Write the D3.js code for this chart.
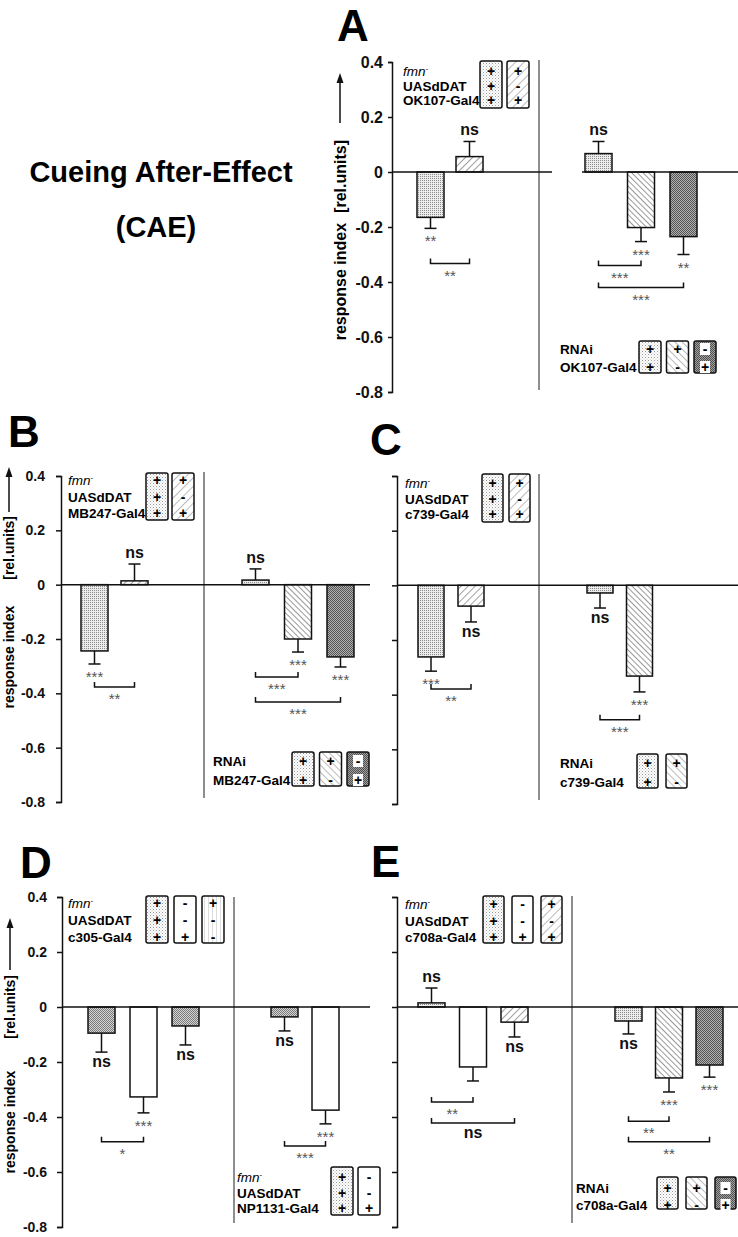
<!DOCTYPE html>
<html>
<head>
<meta charset="utf-8">
<script src="https://cdn.jsdelivr.net/npm/d3@7"></script>
<style>
  body { margin: 0; background: #fff; }
  svg text { font-family: 'Liberation Sans', Arial, sans-serif; }
</style>
</head>
<body>
<div id="chart"></div>
<script>
// ---- data ----
const yTicks = [0.4, 0.2, 0, -0.2, -0.4, -0.6, -0.8];

// A: OK107
const valuesA = [-0.165, 0.056, 0.067, -0.202, -0.235];
const errorsA = [0.040, 0.055, 0.044, 0.051, 0.065];
const fillsA = ['dots', 'fwd', 'dots', 'back', 'dark'];
const sigA = ['**', 'ns', 'ns', '***', '**'];
const bracketsA = [[0, 1, -0.333, '**'], [2, 3, -0.34, '***'], [2, 4, -0.42, '***']];

// B: MB247
const valuesB = [-0.244, 0.014, 0.017, -0.200, -0.266];
const errorsB = [0.048, 0.062, 0.041, 0.048, 0.037];
const fillsB = ['dots', 'fwd', 'dots', 'back', 'dark'];
const sigB = ['***', 'ns', 'ns', '***', '***'];
const bracketsB = [[0, 1, -0.377, '**'], [2, 3, -0.34, '***'], [2, 4, -0.432, '***']];

// C: c739
const valuesC = [-0.262, -0.076, -0.028, -0.332];
const errorsC = [0.052, 0.058, 0.055, 0.058];
const fillsC = ['dots', 'fwd', 'dots', 'back'];
const sigC = ['***', 'ns', 'ns', '***'];
const bracketsC = [[0, 1, -0.379, '**'], [2, 3, -0.492, '***']];

// D: c305 / NP1131
const valuesD = [-0.095, -0.327, -0.069, -0.036, -0.375];
const errorsD = [0.069, 0.058, 0.069, 0.051, 0.050];
const fillsD = ['mid', 'white', 'mid', 'mid', 'white'];
const sigD = ['ns', '***', 'ns', 'ns', '***'];
const bracketsD = [[0, 1, -0.49, '*'], [3, 4, -0.505, '***']];

// E: c708a
const valuesE = [0.015, -0.218, -0.055, -0.051, -0.258, -0.211];
const errorsE = [0.054, 0.051, 0.054, 0.047, 0.051, 0.044];
const fillsE = ['dots', 'white', 'fwd', 'dots', 'back', 'dark'];
const sigE = ['ns', '', 'ns', 'ns', '***', '***'];
const bracketsE = [[0, 1, -0.345, '**'], [0, 2, -0.422, 'ns'], [3, 4, -0.415, '**'], [3, 5, -0.49, '**']];

// genotype legends
const rowsA1 = ['fmn', 'UASdDAT', 'OK107-Gal4'];
const colsA1 = [['+', '+', '+'], ['+', '-', '+']];
const rowsA2 = ['RNAi', 'OK107-Gal4'];
const colsA2 = [['+', '+'], ['+', '-'], ['-', '+']];
const rowsB1 = ['fmn', 'UASdDAT', 'MB247-Gal4'];
const colsB1 = [['+', '+', '+'], ['+', '-', '+']];
const rowsB2 = ['RNAi', 'MB247-Gal4'];
const colsB2 = [['+', '+'], ['+', '-'], ['-', '+']];
const rowsC1 = ['fmn', 'UASdDAT', 'c739-Gal4'];
const colsC1 = [['+', '+', '+'], ['+', '-', '+']];
const rowsC2 = ['RNAi', 'c739-Gal4'];
const colsC2 = [['+', '+'], ['+', '-']];
const rowsD1 = ['fmn', 'UASdDAT', 'c305-Gal4'];
const colsD1 = [['+', '+', '+'], ['-', '-', '+'], ['+', '-', '-']];
const rowsD2 = ['fmn', 'UASdDAT', 'NP1131-Gal4'];
const colsD2 = [['+', '+', '+'], ['-', '-', '+']];
const rowsE1 = ['fmn', 'UASdDAT', 'c708a-Gal4'];
const colsE1 = [['+', '+', '+'], ['-', '-', '+'], ['+', '-', '+']];
const rowsE2 = ['RNAi', 'c708a-Gal4'];
const colsE2 = [['+', '+'], ['+', '-'], ['-', '+']];

// ---- layout ----
const W = 738, H = 1237;
const svg = d3.select('#chart').append('svg').attr('width', W).attr('height', H);

// fill patterns
const defs = svg.append('defs');
function dotPattern(id, bg, fg, both) {
    const p = defs.append('pattern').attr('id', id).attr('width', 2).attr('height', 2)
        .attr('patternUnits', 'userSpaceOnUse');
    p.append('rect').attr('width', 2).attr('height', 2).attr('fill', bg);
    p.append('rect').attr('width', 1).attr('height', 1).attr('fill', fg);
    if (both) p.append('rect').attr('x', 1).attr('y', 1).attr('width', 1).attr('height', 1).attr('fill', fg);
}
function hatchPattern(id, gap, angle, color, width) {
    const p = defs.append('pattern').attr('id', id).attr('width', gap).attr('height', gap)
        .attr('patternUnits', 'userSpaceOnUse').attr('patternTransform', `rotate(${angle})`);
    p.append('rect').attr('width', gap).attr('height', gap).attr('fill', '#fff');
    p.append('line').attr('x1', 0).attr('y1', 0).attr('x2', 0).attr('y2', gap)
        .attr('stroke', color).attr('stroke-width', width);
}
dotPattern('dots', '#ececec', '#8c8c8c', false);
dotPattern('mid', '#d4d4d4', '#7a7a7a', true);
dotPattern('dark', '#b0b0b0', '#555', true);
hatchPattern('fwd', 5, 45, '#444', 1);
hatchPattern('back', 4, -45, '#333', 1);
// lighter versions for the genotype boxes
(function () {
    const p = defs.append('pattern').attr('id', 'ldots').attr('width', 3).attr('height', 3)
        .attr('patternUnits', 'userSpaceOnUse');
    p.append('rect').attr('width', 3).attr('height', 3).attr('fill', '#fff');
    p.append('rect').attr('width', 1).attr('height', 1).attr('fill', '#999');
    p.append('rect').attr('x', 1.5).attr('y', 1.5).attr('width', 1).attr('height', 1).attr('fill', '#bbb');
})();
hatchPattern('lfwd', 6, 45, '#555', 0.8);
hatchPattern('lback', 5, -45, '#555', 0.8);
hatchPattern('lcross', 4, 0, '#aaa', 0.8);
dotPattern('ldark', '#a0a0a0', '#505050', true);

const fillOf = f => f === 'white' ? '#fff' : `url(#${f})`;

function drawLegend(g, rows, cols, boxFills, L) {
    rows.forEach((r, i) => {
        const t = g.append('text').attr('x', L.x).attr('y', L.y0 + i * L.dy + 5)
            .attr('font-size', 13.5);
        if (r === 'fmn') {
            t.append('tspan').attr('font-style', 'italic').text('fmn');
            t.append('tspan').attr('font-size', 8).attr('dy', -5).text('-');
        } else {
            t.attr('font-weight', 'bold').text(r);
        }
    });
    cols.forEach((c, j) => {
        const bx = L.boxX + j * L.boxStep;
        g.append('rect').attr('x', bx).attr('y', L.boxY).attr('width', L.boxW).attr('height', L.boxH)
            .attr('rx', 2).attr('fill', fillOf(boxFills[j])).attr('stroke', '#111').attr('stroke-width', 1.5);
        c.forEach((s, i) => {
            const ry = L.y0 + i * L.dy;
            if (boxFills[j] === 'ldark') {
                g.append('rect').attr('x', bx + L.boxW / 2 - 5).attr('y', ry - 6).attr('width', 10)
                    .attr('height', 12).attr('fill', '#fff');
            }
            g.append('text').attr('x', bx + L.boxW / 2).attr('y', ry + 5)
                .attr('text-anchor', 'middle').attr('font-size', 14).attr('font-weight', 'bold').text(s);
        });
    });
}

function drawPanel(values, errors, fills, sig, brackets, L) {
    const g = svg.append('g');
    const y = d3.scaleLinear().domain([-0.8, 0.4]).range(L.yRange);

    // x positions: one band scale per section
    const slots = [];
    L.sections.forEach(s => {
        const x = d3.scaleBand().domain(d3.range(s.n))
            .range([s.x0, s.x0 + s.step * (s.n - 1) + L.barW])
            .paddingInner(1 - L.barW / s.step).paddingOuter(0);
        d3.range(s.n).forEach(k => slots.push({ x: x(k), w: x.bandwidth() }));
    });
    const cx = i => slots[i].x + slots[i].w / 2;

    // divider
    g.append('line').attr('x1', L.divider[0]).attr('x2', L.divider[0])
        .attr('y1', L.divider[1]).attr('y2', L.divider[2]).attr('stroke', '#444').attr('stroke-width', 1.2);

    // bars
    g.selectAll('rect.bar').data(values).join('rect').attr('class', 'bar')
        .attr('x', (d, i) => slots[i].x).attr('width', (d, i) => slots[i].w)
        .attr('y', d => y(Math.max(d, 0))).attr('height', d => Math.abs(y(d) - y(0)))
        .attr('fill', (d, i) => fillOf(fills[i])).attr('stroke', '#111').attr('stroke-width', 1.5);

    // error bars
    values.forEach((v, i) => {
        const end = v >= 0 ? v + errors[i] : v - errors[i];
        g.append('line').attr('x1', cx(i)).attr('x2', cx(i)).attr('y1', y(v)).attr('y2', y(end))
            .attr('stroke', '#111').attr('stroke-width', 1.5);
        g.append('line').attr('x1', cx(i) - 6).attr('x2', cx(i) + 6).attr('y1', y(end)).attr('y2', y(end))
            .attr('stroke', '#111').attr('stroke-width', 1.5);
        const s = sig[i];
        if (!s) return;
        const ns = s === 'ns';
        const ty = v >= 0 ? y(end) - 6 : y(end) + (ns ? 15 : 18);
        g.append('text').attr('x', cx(i)).attr('y', ty).attr('text-anchor', 'middle')
            .attr('font-size', ns ? 16 : 15).attr('font-weight', ns ? 'bold' : 'normal')
            .attr('fill', ns ? '#111' : '#555').text(s);
    });

    // zero line
    L.zero.forEach(z => g.append('line').attr('x1', z[0]).attr('x2', z[1])
        .attr('y1', y(0)).attr('y2', y(0)).attr('stroke', '#111').attr('stroke-width', 1.5));

    // comparison brackets
    brackets.forEach(b => {
        const x1 = cx(b[0]), x2 = cx(b[1]), yb = y(b[2]);
        g.append('path').attr('d', `M${x1},${yb - 5}V${yb}H${x2}V${yb - 5}`)
            .attr('fill', 'none').attr('stroke', '#111').attr('stroke-width', 1.5);
        const ns = b[3] === 'ns';
        g.append('text').attr('x', (x1 + x2) / 2).attr('y', yb + (ns ? 15 : 17))
            .attr('text-anchor', 'middle').attr('font-size', ns ? 16 : 15)
            .attr('font-weight', ns ? 'bold' : 'normal').attr('fill', ns ? '#111' : '#555').text(b[3]);
    });

    // y axis
    const axis = d3.axisLeft(y).tickValues(yTicks).tickSize(L.tickSize).tickPadding(L.tickPad)
        .tickFormat(L.tickLabels ? d => String(d) : () => '');
    const ax = g.append('g').attr('transform', `translate(${L.axisX},0)`).call(axis);
    ax.select('.domain').attr('stroke', '#111').attr('stroke-width', 1.5);
    ax.selectAll('.tick line').attr('stroke', '#111').attr('stroke-width', 1.5);
    ax.selectAll('.tick text').attr('font-size', L.tickFont).attr('font-weight', 'bold')
        .attr('font-family', "'Liberation Sans', Arial, sans-serif").attr('fill', '#111');

    // axis title with arrow: "[rel.units]" on top, "response index" below it
    if (L.yLabel) {
        const a = L.yLabel;
        g.append('line').attr('x1', a.x).attr('x2', a.x).attr('y1', a.tip + 8).attr('y2', a.end)
            .attr('stroke', '#111').attr('stroke-width', 1.5);
        g.append('path').attr('d', `M${a.x},${a.tip}l-3.5,10h7z`).attr('fill', '#111');
        const tx = a.x + a.size * 0.36;
        const units = g.append('text').attr('transform', `translate(${tx},${a.top}) rotate(-90)`)
            .attr('text-anchor', 'end').attr('font-size', a.size).attr('font-weight', 'bold')
            .text('[rel.units]');
        const len = units.node().getComputedTextLength();
        g.append('text').attr('transform', `translate(${tx},${a.top + len + a.gap}) rotate(-90)`)
            .attr('text-anchor', 'end').attr('font-size', a.size).attr('font-weight', 'bold')
            .text('response index');
    }

    // panel letter
    g.append('text').attr('x', L.letter[1]).attr('y', L.letter[2]).attr('font-size', 44)
        .attr('font-weight', 'bold').text(L.letter[0]);

    return g;
}

// panel A
const gA = drawPanel(valuesA, errorsA, fillsA, sigA, bracketsA, {
    axisX: 392, yRange: [392, 62], tickLabels: true, tickSize: 4, tickPad: 5, tickFont: 16,
    divider: [539, 60, 390], zero: [[392, 552], [582, 738]], barW: 27,
    sections: [{ x0: 417, step: 39, n: 2 }, { x0: 585, step: 42.5, n: 3 }],
    yLabel: { x: 340, tip: 73, end: 123, top: 140, size: 16, gap: 10 }, letter: ['A', 337, 41]
});
drawLegend(gA, rowsA1, colsA1, ['ldots', 'lfwd'],
    { x: 403, y0: 71, dy: 14.5, boxX: 480, boxStep: 27, boxW: 22, boxY: 61, boxH: 47 });
drawLegend(gA, rowsA2, colsA2, ['ldots', 'lback', 'ldark'],
    { x: 560, y0: 349, dy: 18, boxX: 639, boxStep: 27.5, boxW: 22, boxY: 341, boxH: 32 });

// panel B
const gB = drawPanel(valuesB, errorsB, fillsB, sigB, bracketsB, {
    axisX: 61, yRange: [802, 476], tickLabels: true, tickSize: 5, tickPad: 11, tickFont: 14,
    divider: [204, 472, 798], zero: [[61, 370]], barW: 27,
    sections: [{ x0: 81, step: 40, n: 2 }, { x0: 242, step: 42.5, n: 3 }],
    yLabel: { x: 9, tip: 467, end: 512, top: 516, size: 14, gap: 26 }, letter: ['B', 8, 447]
});
drawLegend(gB, rowsB1, colsB1, ['ldots', 'lfwd'],
    { x: 68, y0: 480, dy: 16.5, boxX: 146, boxStep: 26, boxW: 22, boxY: 473, boxH: 47 });
drawLegend(gB, rowsB2, colsB2, ['ldots', 'lback', 'ldark'],
    { x: 213, y0: 761, dy: 19, boxX: 292, boxStep: 27.5, boxW: 22, boxY: 752, boxH: 34 });

// panel C
const gC = drawPanel(valuesC, errorsC, fillsC, sigC, bracketsC, {
    axisX: 397, yRange: [804, 476], tickLabels: false, tickSize: 5, tickPad: 4, tickFont: 14,
    divider: [539, 474, 800], zero: [[397, 738]], barW: 26,
    sections: [{ x0: 418, step: 40, n: 2 }, { x0: 587, step: 39.5, n: 2 }],
    yLabel: null, letter: ['C', 370, 455]
});
drawLegend(gC, rowsC1, colsC1, ['ldots', 'lfwd'],
    { x: 405, y0: 483, dy: 15.5, boxX: 482, boxStep: 27, boxW: 21, boxY: 474, boxH: 48 });
drawLegend(gC, rowsC2, colsC2, ['ldots', 'lback'],
    { x: 560, y0: 763, dy: 19, boxX: 637, boxStep: 29, boxW: 21, boxY: 754, boxH: 34 });

// panel D
const gD = drawPanel(valuesD, errorsD, fillsD, sigD, bracketsD, {
    axisX: 62, yRange: [1227, 897], tickLabels: true, tickSize: 5, tickPad: 10, tickFont: 14,
    divider: [234, 897, 1223], zero: [[62, 370]], barW: 27,
    sections: [{ x0: 88, step: 42, n: 3 }, { x0: 271, step: 41, n: 2 }],
    yLabel: { x: 10, tip: 918, end: 970, top: 975, size: 14, gap: 32 }, letter: ['D', 20, 878]
});
drawLegend(gD, rowsD1, colsD1, ['ldots', 'white', 'lcross'],
    { x: 68, y0: 903, dy: 17, boxX: 146, boxStep: 28, boxW: 22, boxY: 896, boxH: 47 });
drawLegend(gD, rowsD2, colsD2, ['ldots', 'white'],
    { x: 237, y0: 1177, dy: 15.5, boxX: 331, boxStep: 27, boxW: 22, boxY: 1167, boxH: 48 });

// panel E
const gE = drawPanel(valuesE, errorsE, fillsE, sigE, bracketsE, {
    axisX: 397, yRange: [1227, 897], tickLabels: false, tickSize: 5, tickPad: 4, tickFont: 14,
    divider: [572, 896, 1223], zero: [[397, 738]], barW: 27,
    sections: [{ x0: 418, step: 41.5, n: 3 }, { x0: 615, step: 40.5, n: 3 }],
    yLabel: null, letter: ['E', 371, 877]
});
drawLegend(gE, rowsE1, colsE1, ['ldots', 'white', 'lfwd'],
    { x: 405, y0: 904, dy: 16.5, boxX: 483, boxStep: 29, boxW: 21, boxY: 896, boxH: 47 });
drawLegend(gE, rowsE2, colsE2, ['ldots', 'lback', 'ldark'],
    { x: 576, y0: 1188, dy: 17, boxX: 657, boxStep: 29, boxW: 21, boxY: 1177, boxH: 32 });

// figure title
svg.append('text').attr('x', 161).attr('y', 182).attr('text-anchor', 'middle')
    .attr('font-size', 29).attr('font-weight', 'bold').text('Cueing After-Effect');
svg.append('text').attr('x', 156).attr('y', 237).attr('text-anchor', 'middle')
    .attr('font-size', 29).attr('font-weight', 'bold').text('(CAE)');
</script>
</body>
</html>
